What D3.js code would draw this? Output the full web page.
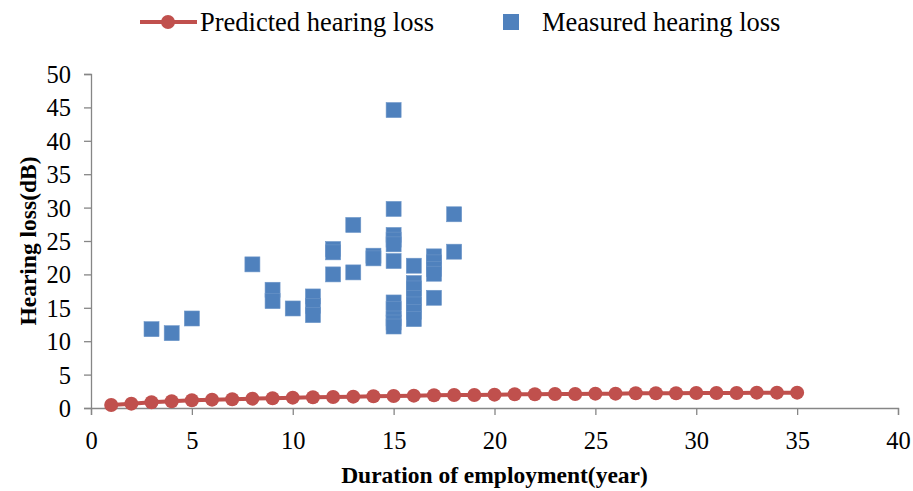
<!DOCTYPE html>
<html>
<head>
<meta charset="utf-8">
<script src="https://cdn.jsdelivr.net/npm/d3@7"></script>
<style>
  body { margin: 0; background: #fff; }
  svg text { font-family: "Liberation Serif", "Times New Roman", serif; fill: #000; }
</style>
</head>
<body>
<div id="chart"></div>
<script>
// predicted hearing loss (years 1..35)
const predYears = d3.range(1, 36);
const predValues = [0.45, 0.65, 0.85, 1.0, 1.15, 1.25, 1.3, 1.4, 1.45, 1.55,
  1.6, 1.65, 1.7, 1.75, 1.8, 1.85, 1.9, 1.95, 1.95, 2.0,
  2.05, 2.05, 2.1, 2.1, 2.15, 2.15, 2.2, 2.2, 2.2, 2.25,
  2.25, 2.25, 2.3, 2.3, 2.3];

// measured hearing loss
const measYears = [3, 4, 5, 8, 9, 9, 10, 11, 11, 11, 12, 12, 12, 13, 13, 14, 14,
  15, 15, 15, 15, 15, 15, 15, 15, 15, 15, 15,
  16, 16, 16, 16, 16, 16, 16,
  17, 17, 17, 17, 17, 18, 18];
const measValues = [11.8, 11.2, 13.4, 21.5, 17.7, 16.0, 14.9, 16.7, 15.3, 13.9, 23.8, 23.3, 20.0, 27.4, 20.3, 22.8, 22.4,
  44.6, 29.8, 25.9, 25.2, 24.5, 22.0, 15.8, 14.8, 13.4, 12.8, 12.2,
  21.3, 18.7, 17.9, 16.5, 15.5, 14.4, 13.3,
  22.7, 21.8, 20.8, 20.1, 16.5, 29.0, 23.4];

const xTicks = d3.range(0, 41, 5);
const yTicks = d3.range(0, 51, 5);

const width = 913, height = 491;
const margin = {top: 74, right: 15, bottom: 83, left: 91};

const red = '#C0504D', blue = '#4F81BD', axisColor = '#868686';
const serif = '"Liberation Serif", "Times New Roman", serif';

let svg = d3.select('#chart').append('svg')
  .attr('width', width)
  .attr('height', height);

let x = d3.scaleLinear().domain([0, 40]).range([margin.left, width - margin.right]);
let y = d3.scaleLinear().domain([0, 50]).range([height - margin.bottom, margin.top]);

// axes
let xAxis = svg.append('g')
  .attr('transform', `translate(0,${y(0)})`)
  .call(d3.axisBottom(x).tickValues(xTicks).tickSize(7).tickPadding(17));
let yAxis = svg.append('g')
  .attr('transform', `translate(${x(0)},0)`)
  .call(d3.axisLeft(y).tickValues(yTicks).tickSize(7).tickPadding(13));

[xAxis, yAxis].forEach(a => {
  a.attr('font-family', serif).attr('font-size', 24.5);
  a.select('.domain').attr('stroke', axisColor).attr('stroke-width', 1.3);
  a.selectAll('.tick line').attr('stroke', axisColor).attr('stroke-width', 1.3);
  a.selectAll('.tick text').attr('fill', '#000');
});
yAxis.selectAll('.tick text').attr('dy', '0.35em');

// predicted line
let line = d3.line()
  .x((d, i) => x(predYears[i]))
  .y(d => y(d));

svg.append('path')
  .datum(predValues)
  .attr('fill', 'none')
  .attr('stroke', red)
  .attr('stroke-width', 4)
  .attr('d', line);

svg.selectAll('circle.pred')
  .data(predValues)
  .enter().append('circle')
  .attr('class', 'pred')
  .attr('cx', (d, i) => x(predYears[i]))
  .attr('cy', d => y(d))
  .attr('r', 7)
  .attr('fill', red);

// measured squares
const sq = 15;
svg.selectAll('rect.meas')
  .data(measValues)
  .enter().append('rect')
  .attr('class', 'meas')
  .attr('x', (d, i) => x(measYears[i]) - sq / 2)
  .attr('y', d => y(d) - sq / 2)
  .attr('width', sq)
  .attr('height', sq)
  .attr('fill', blue)
  .attr('stroke', '#6d96c8')
  .attr('stroke-width', 0.6);

// axis titles
svg.append('text')
  .attr('x', (x(0) + x(40)) / 2)
  .attr('y', 483)
  .attr('text-anchor', 'middle')
  .style('font-size', '23.5px')
  .style('font-weight', 'bold')
  .text('Duration of employment(year)');

svg.append('text')
  .attr('transform', `translate(36,${(y(0) + y(50)) / 2}) rotate(-90)`)
  .attr('text-anchor', 'middle')
  .style('font-size', '23.5px')
  .style('font-weight', 'bold')
  .text('Hearing loss(dB)');

// legend
let legend = svg.append('g');
legend.append('line')
  .attr('x1', 140).attr('x2', 197)
  .attr('y1', 22).attr('y2', 22)
  .attr('stroke', red).attr('stroke-width', 4);
legend.append('circle')
  .attr('cx', 168).attr('cy', 22).attr('r', 7).attr('fill', red);
legend.append('text')
  .attr('x', 200).attr('y', 31)
  .style('font-size', '26.5px')
  .text('Predicted hearing loss');
legend.append('rect')
  .attr('x', 503).attr('y', 14).attr('width', 16).attr('height', 16)
  .attr('fill', blue);
legend.append('text')
  .attr('x', 542).attr('y', 31)
  .style('font-size', '26.5px')
  .text('Measured hearing loss');
</script>
</body>
</html>
